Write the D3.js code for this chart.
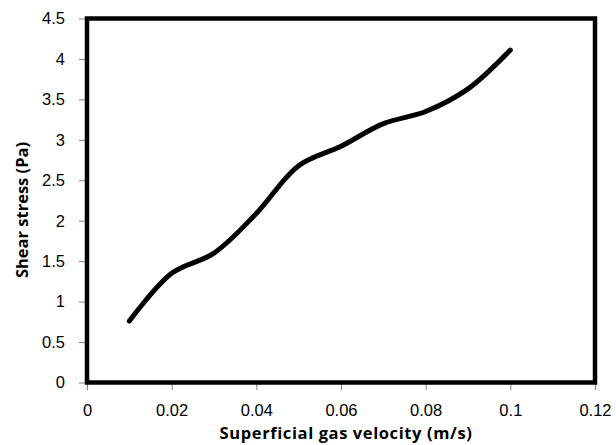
<!DOCTYPE html>
<html>
<head>
<meta charset="utf-8">
<script src="https://cdn.jsdelivr.net/npm/d3@7"></script>
<style>
    body { margin: 0; background: #fff; }
    svg { display: block; font-family: "Open Sans", sans-serif; }
    .tick text { font-size: 16.5px; fill: #000; }
    .tick line { stroke: #808080; }
    .axis-title { font-size: 16.5px; font-weight: bold; fill: #000; }
</style>
</head>
<body>
<div id="chart"></div>
<script>
// superficial gas velocity (m/s) vs shear stress (Pa)
var velocity = [0.01, 0.02, 0.03, 0.04, 0.05, 0.06, 0.07, 0.08, 0.09, 0.1];
var shearStress = [0.76, 1.35, 1.6, 2.09, 2.68, 2.92, 3.2, 3.35, 3.63, 4.11];
var xTicks = [0, 0.02, 0.04, 0.06, 0.08, 0.1, 0.12];
var yTicks = [0, 0.5, 1, 1.5, 2, 2.5, 3, 3.5, 4, 4.5];

function drawChart() {
    const width = 616;
    const height = 445;
    const left = 87, right = 595, top = 18.5, bottom = 382.5;

    const xScale = d3.scaleLinear().domain([0, 0.12]).range([left, right]);
    const yScale = d3.scaleLinear().domain([0, 4.5]).range([bottom, top]);

    var svg = d3.select("#chart")
        .append("svg")
        .attr("width", width)
        .attr("height", height);

    const xAxis = d3.axisBottom(xScale)
        .tickValues(xTicks)
        .tickSize(7.5)
        .tickPadding(14)
        .tickFormat(d3.format("~g"));
    const yAxis = d3.axisLeft(yScale)
        .tickValues(yTicks)
        .tickSize(8)
        .tickPadding(14)
        .tickFormat(d3.format("~g"));

    svg.append("g")
        .attr("transform", "translate(0," + bottom + ")")
        .call(xAxis)
        .call(g => g.select(".domain").remove());

    svg.append("g")
        .attr("transform", "translate(" + left + ",0)")
        .call(yAxis)
        .call(g => g.select(".domain").remove());

    // plot frame
    svg.append("rect")
        .attr("x", left)
        .attr("y", top)
        .attr("width", right - left)
        .attr("height", bottom - top)
        .attr("fill", "none")
        .attr("stroke", "#000")
        .attr("stroke-width", 4.5);

    var line = d3.line()
        .x((d, i) => xScale(velocity[i]))
        .y((d) => yScale(d))
        .curve(d3.curveCatmullRom.alpha(0.5));

    svg.append("path")
        .datum(shearStress)
        .attr("d", line)
        .attr("fill", "none")
        .attr("stroke", "#000")
        .attr("stroke-width", 5)
        .attr("stroke-linecap", "round")
        .attr("stroke-linejoin", "round");

    svg.append("text")
        .attr("class", "axis-title")
        .attr("x", 346)
        .attr("y", 439)
        .attr("text-anchor", "middle")
        .style("letter-spacing", "0.6px")
        .text("Superficial gas velocity (m/s)");

    svg.append("text")
        .attr("class", "axis-title")
        .attr("transform", "translate(28," + 210 + ") rotate(-90)")
        .attr("text-anchor", "middle")
        .text("Shear stress (Pa)");
}

drawChart();
</script>
</body>
</html>
